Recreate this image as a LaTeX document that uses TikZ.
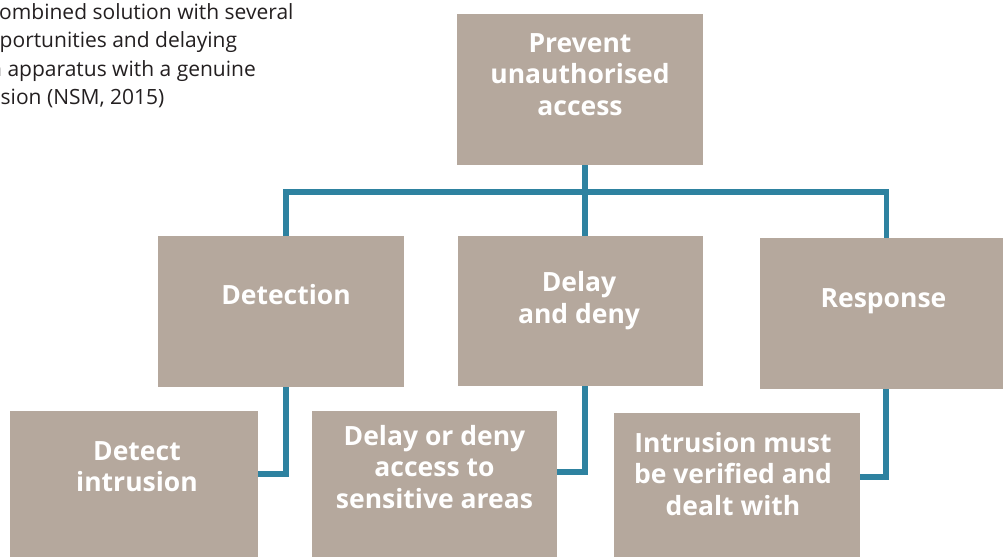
\documentclass[tikz,border=0pt]{standalone}
\usepackage{fontspec}
\setmainfont{Open Sans}
\usetikzlibrary{calc}

\definecolor{boxfill}{HTML}{B5A89D}
\definecolor{linkteal}{HTML}{2E82A0}
\definecolor{captext}{HTML}{231F20}

\tikzset{
  box/.style={fill=boxfill, draw=none, inner sep=0pt, anchor=north west},
  % multi-line labels sit on the baseline of their last line
  boxtext/.style={text=white, font=\bfseries\fontsize{26.5}{31.5}\selectfont,
    align=center, inner sep=0pt, anchor=base},
  captionline/.style={text=captext, font=\fontsize{21}{28}\selectfont,
    inner sep=0pt, anchor=base west},
  link/.style={draw=linkteal, line width=5.5pt, line cap=butt, line join=miter},
}

\begin{document}
\begin{tikzpicture}[x=1pt, y=-1pt]
\useasboundingbox (0,0) rectangle (1003,557);

% caption text running off the left edge
\node[captionline] (cap1) at (-1,19.5)  {ombined solution with several};
\node[captionline] (cap2) at (-0.5,47.8){portunities and delaying};
\node[captionline] (cap3) at (-11,76)   {n apparatus with a genuine};
\node[captionline] (cap4) at (0.5,104.5){sion (NSM, 2015)};

% boxes
\node[box, minimum width=246pt, minimum height=151pt] (top)    at (457,14)  {};
\node[box, minimum width=246pt, minimum height=151pt] (det)    at (158,236) {};
\node[box, minimum width=245pt, minimum height=150pt] (mid)    at (458,236) {};
\node[box, minimum width=243pt, minimum height=151pt] (resp)   at (760,238) {};
\node[box, minimum width=248pt, minimum height=146pt] (detint) at (10,411)  {};
\node[box, minimum width=245pt, minimum height=146pt] (dod)    at (312,411) {};
\node[box, minimum width=246pt, minimum height=144pt] (intr)   at (614,413) {};

% box labels
\node[boxtext] (ttop)    at (580,115)   {Prevent\\unauthorised\\access};
\node[boxtext] (tdet)    at (286,304)   {Detection};
\node[boxtext] (tmid)    at (579,323)   {Delay\\and deny};
\node[boxtext] (tresp)   at (883.5,307) {Response};
\node[boxtext] (tdetint) at (137,491.5) {Detect\\intrusion};
\node[boxtext] (tdod)    at (434.5,508) {Delay or deny\\access to\\sensitive areas};
\node[boxtext] (tintr)   at (733,515)   {Intrusion must\\be verified and\\dealt with};

% tree connectors
\draw[link] ([xshift=5pt]top.south) -- ([xshift=5pt]top.south |- mid.north);
\draw[link] ([xshift=5pt]det.north) -- ++(0,-44) -| ([xshift=5pt]resp.north);

% second level connectors
\draw[link] ([xshift=5pt]det.south)  |- ([yshift=10pt]detint.east);
\draw[link] ([xshift=4.5pt]mid.south) |- ([yshift=12pt]dod.east);
\draw[link] ([xshift=4.5pt]resp.south) |- ([yshift=8pt]intr.east);
\end{tikzpicture}
\end{document}
